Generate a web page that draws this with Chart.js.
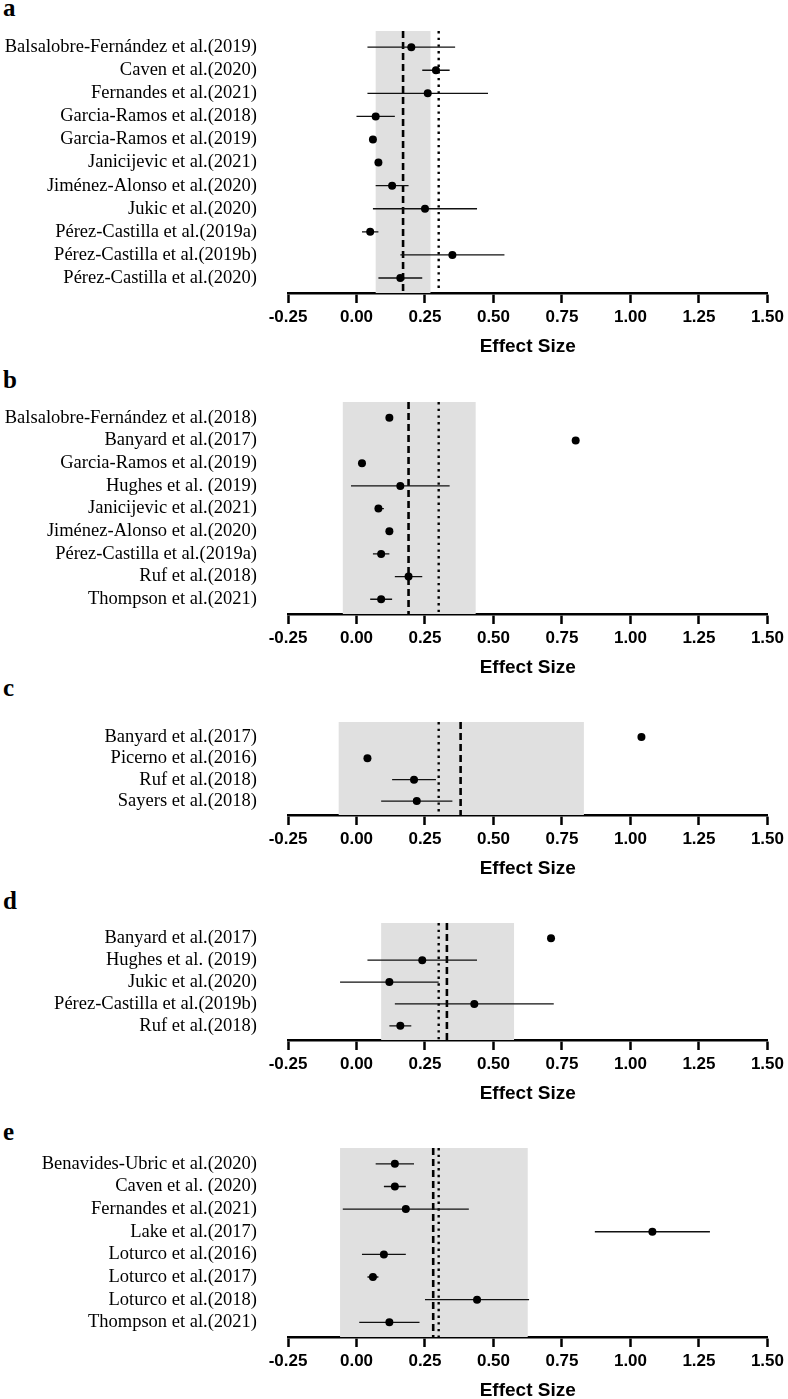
<!DOCTYPE html>
<html>
<head>
<meta charset="utf-8">
<title>Effect size forest plots</title>
<script src="https://cdn.jsdelivr.net/npm/chart.js@4.4.1/dist/chart.umd.min.js"></script>
<style>
  html, body { margin: 0; padding: 0; background: #fff; overflow: hidden; }
  body { width: 788px; height: 1399px; position: relative; }
  canvas { position: absolute; left: 0; }
  .tag {
    position: absolute; left: 3px;
    font: bold 25px 'Liberation Serif', 'Times New Roman', serif;
    line-height: 25px; color: #000;
  }
</style>
</head>
<body>
<div class="tag" style="top:-5px">a</div>
<div class="tag" style="top:367px">b</div>
<div class="tag" style="top:675px">c</div>
<div class="tag" style="top:888px">d</div>
<div class="tag" style="top:1119px">e</div>
<canvas id="chartA"></canvas>
<canvas id="chartB"></canvas>
<canvas id="chartC"></canvas>
<canvas id="chartD"></canvas>
<canvas id="chartE"></canvas>
<script>
/* ─── Data ─────────────────────────────────────────────────────── */
const xTicks   = [-0.25, 0, 0.25, 0.5, 0.75, 1, 1.25, 1.5];
const refLine  = 0.30;

// a
const labelsA = ['Balsalobre-Fernández et al.(2019)', 'Caven et al.(2020)', 'Fernandes et al.(2021)',
                 'Garcia-Ramos et al.(2018)', 'Garcia-Ramos et al.(2019)', 'Janicijevic et al.(2021)',
                 'Jiménez-Alonso et al.(2020)', 'Jukic et al.(2020)', 'Pérez-Castilla et al.(2019a)',
                 'Pérez-Castilla et al.(2019b)', 'Pérez-Castilla et al.(2020)'];
const estA    = [0.20, 0.29, 0.26, 0.07, 0.06, 0.08, 0.13, 0.25, 0.05, 0.35, 0.16];
const lowA    = [0.04, 0.24, 0.04, 0.00, 0.06, 0.08, 0.07, 0.06, 0.02, 0.16, 0.08];
const highA   = [0.36, 0.34, 0.48, 0.14, 0.06, 0.08, 0.19, 0.44, 0.08, 0.54, 0.24];
const bandA   = [0.07, 0.27];
const pooledA = 0.17;

// b
const labelsB = ['Balsalobre-Fernández et al.(2018)', 'Banyard et al.(2017)', 'Garcia-Ramos et al.(2019)',
                 'Hughes et al. (2019)', 'Janicijevic et al.(2021)', 'Jiménez-Alonso et al.(2020)',
                 'Pérez-Castilla et al.(2019a)', 'Ruf et al.(2018)', 'Thompson et al.(2021)'];
const estB    = [0.12, 0.80, 0.02, 0.16, 0.08, 0.12, 0.09, 0.19, 0.09];
const lowB    = [0.12, 0.80, 0.02, -0.02, 0.07, 0.12, 0.06, 0.14, 0.05];
const highB   = [0.12, 0.80, 0.02, 0.34, 0.10, 0.12, 0.12, 0.24, 0.13];
const bandB   = [-0.05, 0.435];
const pooledB = 0.19;

// c
const labelsC = ['Banyard et al.(2017)', 'Picerno et al.(2016)', 'Ruf et al.(2018)', 'Sayers et al.(2018)'];
const estC    = [1.04, 0.04, 0.21, 0.22];
const lowC    = [1.04, 0.04, 0.13, 0.09];
const highC   = [1.04, 0.04, 0.29, 0.35];
const bandC   = [-0.065, 0.83];
const pooledC = 0.38;

// d
const labelsD = ['Banyard et al.(2017)', 'Hughes et al. (2019)', 'Jukic et al.(2020)',
                 'Pérez-Castilla et al.(2019b)', 'Ruf et al.(2018)'];
const estD    = [0.71, 0.24, 0.12, 0.43, 0.16];
const lowD    = [0.71, 0.04, -0.06, 0.14, 0.12];
const highD   = [0.71, 0.44, 0.30, 0.72, 0.20];
const bandD   = [0.09, 0.575];
const pooledD = 0.33;

// e
const labelsE = ['Benavides-Ubric et al.(2020)', 'Caven et al. (2020)', 'Fernandes et al.(2021)',
                 'Lake et al.(2017)', 'Loturco et al.(2016)', 'Loturco et al.(2017)',
                 'Loturco et al.(2018)', 'Thompson et al.(2021)'];
const estE    = [0.14, 0.14, 0.18, 1.08, 0.10, 0.06, 0.44, 0.12];
const lowE    = [0.07, 0.10, -0.05, 0.87, 0.02, 0.04, 0.25, 0.01];
const highE   = [0.21, 0.18, 0.41, 1.29, 0.18, 0.08, 0.63, 0.23];
const bandE   = [-0.06, 0.625];
const pooledE = 0.28;

/* ─── Layout (page pixels: top of grey band, x axis line) ──────── */
const panels = [
    { id: 'chartA', labels: labelsA, est: estA, low: lowA, high: highA, band: bandA, pooled: pooledA, top: 27, axis: 293 },
    { id: 'chartB', labels: labelsB, est: estB, low: lowB, high: highB, band: bandB, pooled: pooledB, top: 398, axis: 614 },
    { id: 'chartC', labels: labelsC, est: estC, low: lowC, high: highC, band: bandC, pooled: pooledC, top: 718, axis: 815 },
    { id: 'chartD', labels: labelsD, est: estD, low: lowD, high: highD, band: bandD, pooled: pooledD, top: 919, axis: 1040 },
    { id: 'chartE', labels: labelsE, est: estE, low: lowE, high: highE, band: bandE, pooled: pooledE, top: 1144, axis: 1337 },
];

const PAD_TOP    = 0.7;   // rows of space above first study
const PAD_BOTTOM = 0.65;  // rows of space below last study
const AXIS_H     = 65;    // x axis block height (ticks + labels + title)
const Y_AXIS_W   = 288;

const sansFont  = "'Liberation Sans', Arial, Helvetica, sans-serif";
const serifFont = "'Liberation Serif', 'Times New Roman', serif";

/* ─── Shaded pooled-CI band ────────────────────────────────────── */
const bandPlugin = {
    id: 'band',
    beforeDatasetsDraw(chart, args, opts) {
        const { ctx, chartArea, scales: { x } } = chart;
        const x0 = x.getPixelForValue(opts.from);
        const x1 = x.getPixelForValue(opts.to);
        ctx.save();
        ctx.fillStyle = opts.color;
        ctx.fillRect(x0, chartArea.top, x1 - x0, chartArea.bottom - chartArea.top);
        ctx.restore();
    },
};

function buildPanel(p) {
    const canvas = document.getElementById(p.id);
    canvas.width  = 788;
    canvas.height = (p.axis - p.top) + AXIS_H;
    canvas.style.top = p.top + 'px';

    const yMin = -PAD_TOP;
    const yMax = p.labels.length - 1 + PAD_BOTTOM;

    const datasets = [];

    // points (first = drawn on top)
    datasets.push({
        data            : p.est.map((v, i) => ({ x: v, y: i })),
        pointRadius     : 4,
        backgroundColor : '#000',
        borderWidth     : 0,
    });

    // confidence intervals
    p.est.forEach((v, i) => {
        if (p.low[i] === p.high[i]) return;
        datasets.push({
            data        : [{ x: p.low[i], y: i }, { x: p.high[i], y: i }],
            showLine    : true,
            borderColor : '#111',
            borderWidth : 1.3,
            pointRadius : 0,
        });
    });

    // pooled estimate (dashed) and reference (dotted)
    datasets.push({
        data        : [{ x: p.pooled, y: yMin }, { x: p.pooled, y: yMax }],
        showLine    : true,
        borderColor : '#000',
        borderWidth : 2.6,
        borderDash  : [7, 4],
        pointRadius : 0,
    });
    datasets.push({
        data        : [{ x: refLine, y: yMin }, { x: refLine, y: yMax }],
        showLine    : true,
        borderColor : '#000',
        borderWidth : 2.4,
        borderDash  : [2.4, 4.3],
        pointRadius : 0,
    });

    new Chart(canvas, {
        type : 'scatter',
        data : { datasets },
        options: {
            responsive : false,
            animation  : false,
            events     : [],
            layout     : { padding: { left: 0, right: 19, top: 0, bottom: 0 } },
            plugins    : {
                legend  : { display: false },
                tooltip : { enabled: false },
                band    : { from: p.band[0], to: p.band[1], color: '#e0e0e0' },
            },
            scales: {
                x: {
                    type   : 'linear',
                    min    : xTicks[0],
                    max    : xTicks[xTicks.length - 1],
                    bounds : 'data',
                    afterBuildTicks : s => { s.ticks = xTicks.map(v => ({ value: v })); },
                    afterFit        : s => { s.height = AXIS_H; },
                    grid   : { drawOnChartArea: false, drawTicks: true, tickLength: 10, tickWidth: 2.5, tickColor: '#000' },
                    border : { display: true, width: 2.6, color: '#000' },
                    ticks  : {
                        autoSkip    : false,
                        maxRotation : 0,
                        padding     : 4,
                        color       : '#000',
                        font        : { family: sansFont, size: 17, weight: 'bold' },
                        callback    : v => v.toFixed(2),
                    },
                    title  : {
                        display : true,
                        text    : 'Effect Size',
                        color   : '#000',
                        padding : { top: 0, bottom: 0 },
                        font    : { family: sansFont, size: 19, weight: 'bold' },
                    },
                },
                y: {
                    type    : 'linear',
                    reverse : true,
                    min     : yMin,
                    max     : yMax,
                    bounds  : 'data',
                    afterBuildTicks : s => { s.ticks = p.labels.map((_, i) => ({ value: i })); },
                    // fixed width; drop the label padding Chart.js reserves above/below
                    afterFit        : s => { s.width = Y_AXIS_W; s.paddingTop = 0; s.paddingBottom = 0; },
                    grid   : { display: false, drawTicks: false, tickLength: 0 },
                    border : { display: false },
                    ticks  : {
                        autoSkip : false,
                        padding  : 31,
                        color    : '#000',
                        font     : { family: serifFont, size: 18.5 },
                        callback : v => p.labels[v],
                    },
                },
            },
        },
        plugins: [bandPlugin],
    });
}

panels.forEach(buildPanel);
</script>
</body>
</html>
